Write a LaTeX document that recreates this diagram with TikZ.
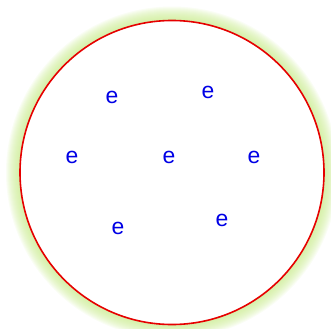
\documentclass[tikz,border=0pt]{standalone}
\usepackage{fontspec}
\setmainfont{Liberation Sans}
\definecolor{glowgreen}{RGB}{200,235,140}
\definecolor{rimred}{RGB}{230,0,0}
\definecolor{eblue}{RGB}{0,0,230}
\begin{document}
\begin{tikzpicture}[x=1bp, y=-1bp,
    elec/.style={font=\fontsize{23}{23}\selectfont, text=eblue, inner sep=0pt},
    rim/.style={draw=rimred, line width=1.6bp, fill=white}]
  \useasboundingbox (0,0) rectangle (331,329);
  % soft glow round the ball
  \foreach \r in {1,...,14}
    \fill[glowgreen, opacity=0.09] (172,172.5) circle ({152+\r});
  \node[rim, circle, minimum size=304bp, inner sep=0pt] (ball) at (172,172.5) {};
  \node[elec] (e1) at (112,97)  {e};
  \node[elec] (e2) at (208,92)  {e};
  \node[elec] (e3) at (72,157)  {e};
  \node[elec] (e4) at (169,157) {e};
  \node[elec] (e5) at (254,157) {e};
  \node[elec] (e6) at (118,228) {e};
  \node[elec] (e7) at (222,220) {e};
\end{tikzpicture}
\end{document}
